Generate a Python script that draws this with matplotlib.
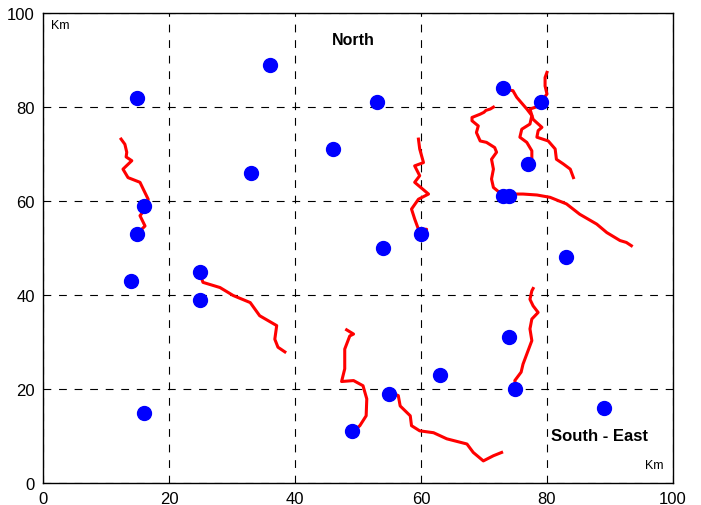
import matplotlib
matplotlib.use('Agg')
import matplotlib.pyplot as plt

# station positions (km)
dots_x = [15, 36, 53, 73, 79, 46, 33, 77, 16, 73, 74, 15, 54, 60, 83,
          14, 25, 25, 74, 63, 55, 75, 49, 16, 89]
dots_y = [82, 89, 81, 84, 81, 71, 66, 68, 59, 61, 61, 53, 50, 53, 48,
          43, 45, 39, 31, 23, 19, 20, 11, 15, 16]

# red tracks
tracks = [
    ([12.4, 13.0, 13.3, 13.2, 14.1, 12.7, 13.5, 15.4, 15.9, 16.7, 16.5, 15.4, 16.2, 14.9],
     [73.2, 72.1, 70.4, 69.4, 68.6, 66.8, 65.0, 64.0, 62.6, 60.4, 58.7, 56.9, 54.7, 53.0]),
    ([24.8, 25.4, 28.1, 30.2, 32.9, 34.4, 37.1, 36.8, 37.3, 38.4],
     [45.0, 42.7, 41.6, 39.9, 38.4, 35.6, 33.5, 30.6, 28.9, 27.9]),
    ([49.2, 50.3, 51.3, 51.4, 50.8, 49.3, 47.4, 47.9, 47.9, 48.7, 49.3, 48.2],
     [10.9, 12.2, 14.3, 17.9, 20.7, 21.8, 21.6, 24.3, 28.5, 31.3, 31.7, 32.6]),
    ([55.1, 56.4, 56.7, 58.3, 58.5, 59.8, 62.0, 64.1, 67.3, 68.3, 69.9, 71.5, 72.8],
     [19.3, 18.6, 16.4, 14.3, 12.2, 11.1, 10.7, 9.4, 8.3, 6.5, 4.7, 5.8, 6.5]),
    ([59.6, 59.8, 60.4, 59.0, 59.8, 59.0, 61.2, 59.6, 58.5, 59.0, 59.6, 60.9, 60.1],
     [73.2, 71.1, 68.2, 67.5, 65.4, 64.0, 61.5, 60.4, 58.3, 56.2, 54.0, 54.0, 52.6]),
    ([73.3, 74.6, 75.2, 75.9, 76.8, 77.6, 77.3, 76.0, 75.7, 76.8, 77.6, 77.6, 77.0],
     [83.8, 83.5, 82.1, 81.0, 79.6, 78.2, 76.4, 75.3, 73.6, 72.5, 70.7, 68.9, 68.0]),
    ([79.0, 80.0, 79.7, 79.7, 80.0],
     [81.0, 82.8, 84.5, 86.3, 87.4]),
    ([78.9, 77.3, 77.8, 79.2, 78.6, 78.4, 80.2, 81.3, 81.5, 82.6, 83.7, 84.2],
     [80.3, 79.6, 77.4, 75.7, 75.0, 73.6, 72.8, 71.1, 68.9, 67.9, 66.8, 65.0]),
    ([74.1, 72.5, 71.5, 71.2, 71.5, 71.2, 72.0, 71.7, 70.4, 69.4, 68.8, 69.1, 68.1,
      68.1, 69.4, 70.0, 70.3, 71.0, 71.5],
     [61.1, 61.8, 62.9, 64.7, 66.8, 68.9, 70.4, 71.4, 72.5, 72.8, 74.6, 76.0, 77.1,
      77.8, 78.5, 78.9, 79.3, 79.6, 80.0]),
    ([74.1, 76.2, 78.4, 80.5, 83.1, 85.2, 87.9, 89.5, 91.6, 92.6, 93.4],
     [61.5, 61.5, 61.3, 60.8, 59.4, 57.2, 55.1, 53.3, 51.6, 51.2, 50.5]),
    ([75.1, 74.9, 75.9, 76.2, 76.9, 77.6, 77.3, 77.6, 78.6, 77.8, 77.3, 77.6, 77.8],
     [20.0, 21.8, 23.6, 25.3, 27.8, 30.3, 32.8, 34.9, 36.3, 37.7, 39.1, 40.9, 41.4]),
]

ticks = [0, 20, 40, 60, 80, 100]

plt.rcParams['font.family'] = ['Liberation Sans', 'DejaVu Sans']

fig = plt.figure(figsize=(7.01, 5.06), dpi=100)
ax = fig.add_axes([0.0613, 0.0435, 0.8987, 0.9285])

for tx, ty in tracks:
    ax.plot(tx, ty, color='red', lw=2.2, zorder=2)
ax.plot(dots_x, dots_y, 'o', color='blue', ms=10, mec='blue', zorder=3)

ax.set_xlim(0, 100)
ax.set_ylim(0, 100)
ax.set_xticks(ticks)
ax.set_yticks(ticks)
ax.tick_params(direction='in', length=0, labelsize=12, pad=6)
ax.grid(True, color='black', linestyle=(0, (7, 7)), linewidth=0.8)
for s in ax.spines.values():
    s.set_linewidth(1.0)

ax.text(49.2, 94.5, 'North', fontsize=11.5, fontweight='bold', ha='center', va='center')
ax.text(80.6, 10.2, 'South - East', fontsize=12, fontweight='bold', ha='left', va='center')
ax.text(1.2, 97.4, 'Km', fontsize=9, ha='left', va='center')
ax.text(98.5, 3.8, 'Km', fontsize=9, ha='right', va='center')

fig.savefig('out.png', dpi=100)
